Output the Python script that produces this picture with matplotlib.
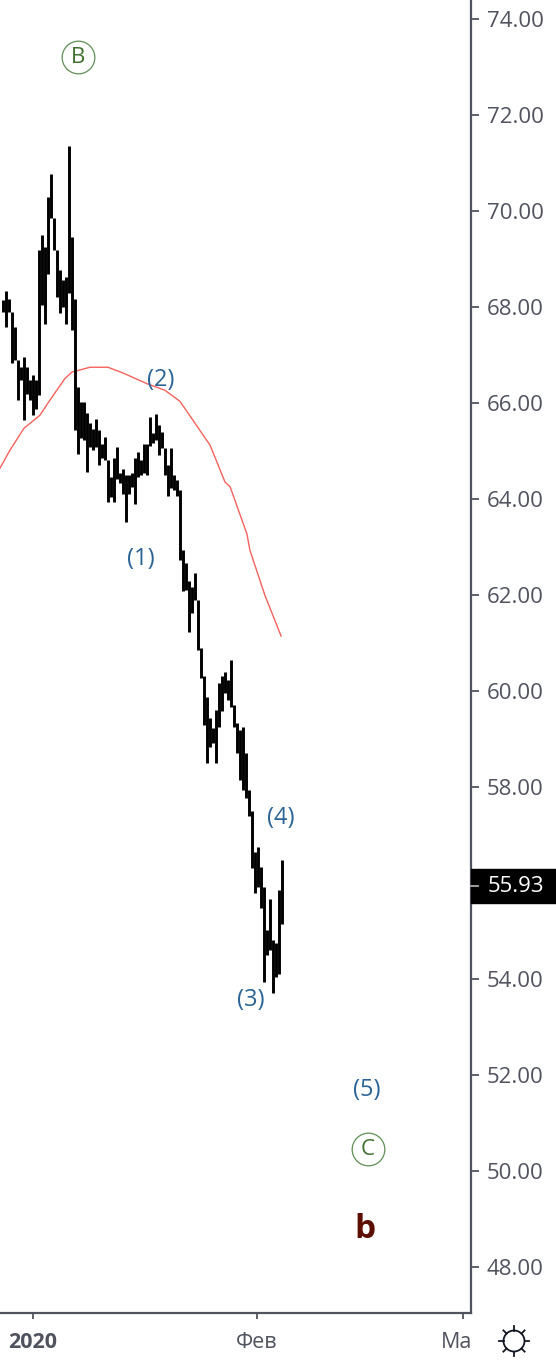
import matplotlib as mpl
mpl.use('Agg')
import matplotlib.pyplot as plt
import numpy as np
from matplotlib.transforms import Bbox

# price bars, left to right
highs = [68.14, 68.33, 68.17, 67.90, 67.58, 66.89, 66.75, 66.96, 66.75, 66.47, 66.58, 66.47,
         69.18, 69.49, 69.25, 70.29, 70.76, 69.84, 69.18, 68.76, 68.56, 68.62, 71.35, 69.46,
         68.17, 66.33, 66.02, 66.02, 65.78, 65.57, 65.46, 65.67, 65.43, 65.15, 65.29, 64.81,
         64.46, 64.84, 65.08, 64.53, 64.63, 64.49, 64.49, 64.53, 64.84, 64.98, 64.81, 65.15,
         65.15, 65.71, 65.37, 65.77, 65.54, 65.40, 65.05, 64.71, 65.05, 64.50, 64.39, 64.19,
         62.93, 62.66, 62.28, 62.17, 62.45, 61.89, 60.89, 60.30, 59.88, 59.43, 59.22, 59.60,
         60.16, 60.30, 60.40, 60.23, 60.64, 59.71, 59.32, 59.19, 59.25, 58.70, 57.93, 57.50,
         56.65, 56.75, 56.33, 55.92, 55.01, 55.67, 54.81, 54.74, 55.85, 56.47]
lows = [67.90, 67.58, 67.90, 66.82, 66.89, 66.05, 66.47, 65.65, 66.19, 66.05, 65.74, 65.88,
        66.16, 68.03, 67.65, 68.69, 69.84, 69.18, 68.21, 67.86, 68.00, 67.65, 68.28, 67.51,
        65.43, 64.94, 65.26, 65.22, 64.56, 65.08, 65.01, 65.08, 64.70, 64.84, 64.81, 63.94,
        64.04, 63.94, 64.42, 64.32, 64.11, 63.52, 64.11, 64.25, 63.90, 64.46, 64.49, 64.53,
        64.49, 65.09, 65.16, 65.23, 64.91, 65.05, 64.50, 64.05, 64.22, 64.19, 64.05, 62.73,
        62.07, 62.10, 61.23, 61.62, 61.89, 60.85, 60.26, 59.29, 58.49, 58.84, 58.91, 58.49,
        59.25, 59.57, 59.95, 59.81, 59.67, 59.25, 58.70, 58.14, 57.94, 57.76, 57.40, 56.30,
        55.78, 55.92, 55.47, 53.94, 54.49, 54.60, 53.70, 54.04, 54.11, 55.15]

# moving average, sampled at bar positions
ma_x = [-1, 2.3, 7, 12.3, 15.7, 20.7, 23, 29, 35, 40, 48.3, 54, 59, 64.7, 69, 74, 75.7, 81.3, 82.3, 87.3, 92.7]
ma_y = [64.64, 65.01, 65.47, 65.74, 66.06, 66.51, 66.64, 66.74, 66.74, 66.62, 66.39, 66.26,
        66.03, 65.51, 65.12, 64.35, 64.25, 63.27, 62.93, 61.99, 61.14]

yticks = [48, 50, 52, 54, 56, 58, 60, 62, 64, 66, 68, 70, 72, 74]
xticks = [10, 84.67, 153.33]
xlabels = ['2020', 'Фев', 'Мар']
last_price = 55.93

wave_labels = ['(1)', '(2)', '(3)', '(4)', '(5)']
wave_x = [46, 52.7, 82.7, 92.7, 121.3]
wave_y = [62.75, 66.48, 53.55, 57.35, 51.69]

axcol = '#50535e'
blue = '#2a6496'
green = '#3f7030'
plt.rcParams['font.family'] = ['Open Sans', 'DejaVu Sans']

W, H = 556, 1360
fig = plt.figure(figsize=(W/100, H/100), dpi=100)
ax = fig.add_axes([0, 47/H, 471/W, 1313/H])
ax.set_xlim(-1, 156)
ax.set_ylim(47.04, 74.39)

ax.plot(ma_x, ma_y, color='#f4625c', lw=1.0)
ax.vlines(np.arange(len(highs)), lows, highs, color='k', lw=2.1)

for s in ['top', 'left']:
    ax.spines[s].set_visible(False)
for s in ['right', 'bottom']:
    ax.spines[s].set_color(axcol)
    ax.spines[s].set_linewidth(1.6)

ax.yaxis.tick_right()
ax.set_yticks(yticks)
ax.set_yticklabels(['%.2f' % v for v in yticks])
ax.tick_params(axis='y', length=6, width=1.3, color=axcol, labelcolor=axcol, labelsize=16, pad=5.5)
ax.set_xticks(xticks)
ax.set_xticklabels(xlabels)
ax.tick_params(axis='x', length=4.5, width=1.3, color=axcol, labelcolor=axcol, labelsize=15.5, pad=9)
labs = ax.get_xticklabels()
labs[0].set_fontweight('bold')
# the last month label runs into the price scale
labs[2].set_clip_box(Bbox([[0, 0], [471, H]]))
labs[2].set_clip_on(True)

for t, x, y in zip(wave_labels, wave_x, wave_y):
    ax.text(x, y, t, color=blue, fontsize=17, ha='center', va='center')

for t, x, y in [('B', 25, 73.2), ('C', 121.7, 50.45)]:
    ax.text(x, y, t, color=green, fontsize=16, ha='center', va='center', zorder=5)
    ax.plot([x], [y], 'o', ms=23.5, mfc='none', mec='#5f8f55', mew=0.9, clip_on=False)

ax.text(120.7, 48.77, 'b', color='#5c0f00', fontsize=24, fontweight='bold', ha='center', va='center')

# last price tag
trans = ax.get_yaxis_transform()
tag_h = 34 / 1313 * (74.39 - 47.04)
ax.add_patch(plt.Rectangle((1.0, last_price - tag_h/2), 85/471, tag_h, transform=trans,
                           color='k', clip_on=False, zorder=6))
ax.plot([1.0, 1.015], [last_price, last_price], transform=trans, color='#aaaaaa',
        lw=1.3, clip_on=False, zorder=7)
ax.text(1 + 17/471, last_price, '%.2f' % last_price, transform=trans, color='w',
        fontsize=16, ha='left', va='center', zorder=7)

# sun icon in the corner
fig.add_artist(plt.Circle((514, H - 1341), 10.5, transform=None, fc='none', ec='#131722', lw=1.3))
for a in np.arange(8) * np.pi / 4:
    fig.add_artist(plt.Line2D([514 + 10.5*np.cos(a), 514 + 15*np.cos(a)],
                              [H - 1341 + 10.5*np.sin(a), H - 1341 + 15*np.sin(a)],
                              transform=None, color='#131722', lw=1.3))

plt.savefig('out.png', dpi=100, facecolor='w')
